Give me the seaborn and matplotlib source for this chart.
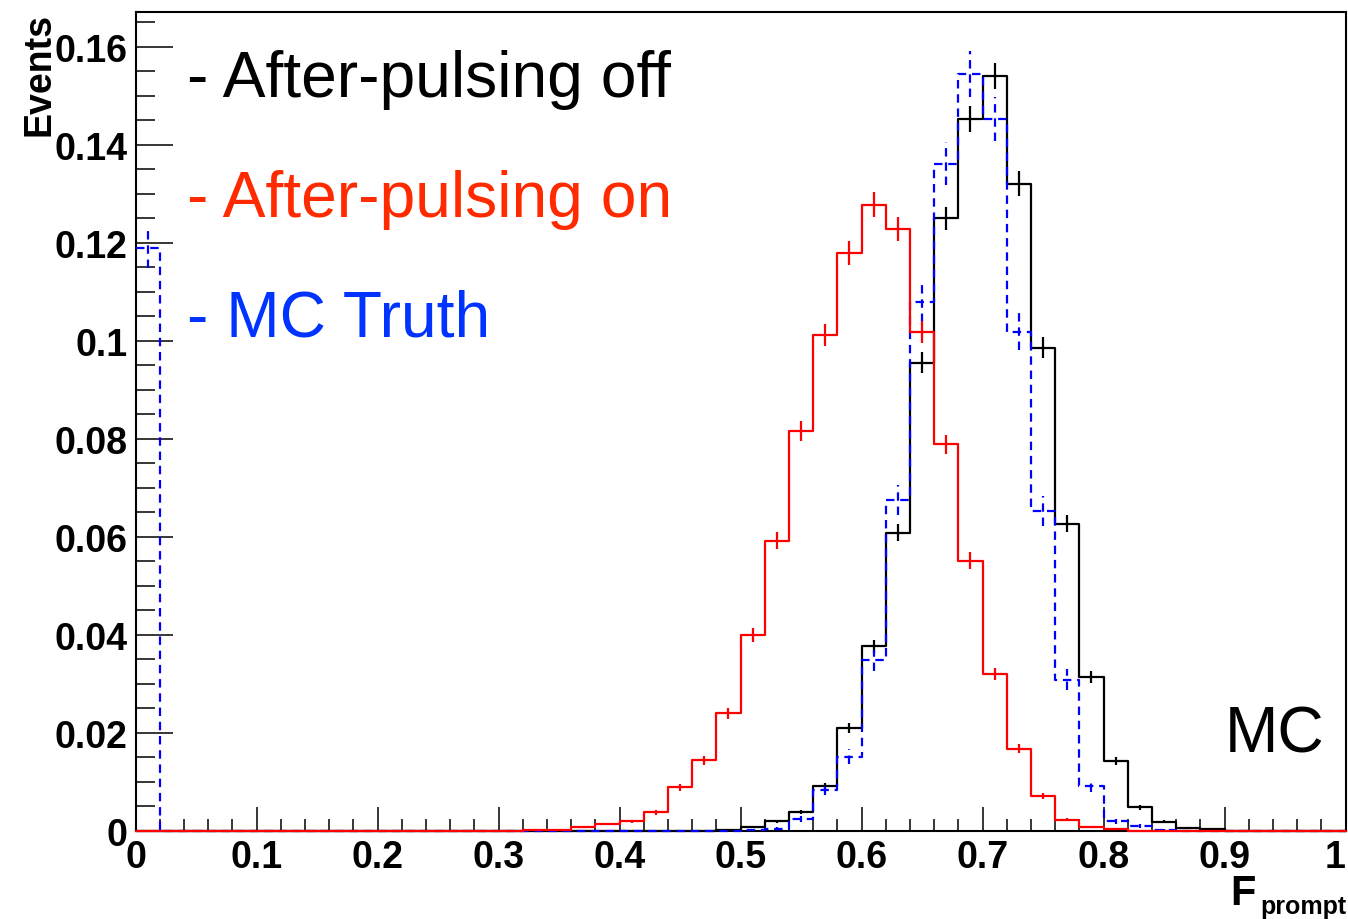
import numpy as np
import matplotlib
matplotlib.use("Agg")
import matplotlib.pyplot as plt
import matplotlib.transforms as mtransforms
import seaborn as sns
from matplotlib.ticker import FixedLocator, FixedFormatter, MultipleLocator

# ---------------------------------------------------------------------------
# Histogram contents: 50 bins of F_prompt in [0, 1], normalised to unit area
# ---------------------------------------------------------------------------
N_BINS = 50
X_RANGE = (0.0, 1.0)

afterpulse_off = [
    0, 0, 0, 0, 0, 0, 0, 0, 0, 0,
    0, 0, 0, 0, 0, 0, 0, 0, 0, 0,
    0, 0, 0, 0.0001, 0.0002, 0.0008, 0.0020, 0.0039, 0.0091, 0.0210,
    0.0377, 0.0609, 0.0956, 0.1250, 0.1453, 0.1541, 0.1321, 0.0986, 0.0627, 0.0315,
    0.0142, 0.0048, 0.0019, 0.0006, 0.0004, 0.0001, 0, 0, 0, 0,
]

afterpulse_on = [
    0, 0, 0, 0, 0, 0, 0, 0, 0, 0,
    0, 0, 0, 0, 0, 0.0001, 0.0002, 0.0003, 0.0009, 0.0014,
    0.0020, 0.0038, 0.0089, 0.0144, 0.0240, 0.0400, 0.0592, 0.0817, 0.1012, 0.1179,
    0.1278, 0.1229, 0.1019, 0.0789, 0.0552, 0.0320, 0.0168, 0.0072, 0.0023, 0.0009,
    0.0005, 0.0001, 0, 0, 0, 0, 0, 0, 0, 0,
]

mc_truth = [
    0.1190, 0, 0, 0, 0, 0, 0, 0, 0, 0,
    0, 0, 0, 0, 0, 0, 0, 0, 0, 0,
    0, 0, 0, 0, 0, 0.0003, 0.0005, 0.0025, 0.0084, 0.0152,
    0.0348, 0.0676, 0.1079, 0.1362, 0.1545, 0.1453, 0.1019, 0.0653, 0.0309, 0.0091,
    0.0020, 0.0011, 0.0003, 0, 0, 0, 0, 0, 0, 0,
]

# number of generated events behind each normalised histogram (Poisson errors)
n_events = {"off": 21000, "on": 20000, "truth": 7000}

legend_labels = ["- After-pulsing off", "- After-pulsing on", "- MC Truth"]
x_tick_values = [0, 0.1, 0.2, 0.3, 0.4, 0.5, 0.6, 0.7, 0.8, 0.9, 1.0]
x_tick_labels = ["0", "0.1", "0.2", "0.3", "0.4", "0.5", "0.6", "0.7", "0.8", "0.9", "1"]
y_tick_values = [0, 0.02, 0.04, 0.06, 0.08, 0.10, 0.12, 0.14, 0.16]
y_tick_labels = ["0", "0.02", "0.04", "0.06", "0.08", "0.1", "0.12", "0.14", "0.16"]

# ---------------------------------------------------------------------------
sns.set_theme(style="white")
plt.rcParams["font.family"] = ["Liberation Sans", "DejaVu Sans"]

W, H = 1348, 920
fig = plt.figure(figsize=(W / 100, H / 100), dpi=100)
left, right, top, bottom = 135.5, 1345.5, 12.7, 832.0
ax = fig.add_axes([left / W, 1 - bottom / H, (right - left) / W, (bottom - top) / H])

edges = np.linspace(X_RANGE[0], X_RANGE[1], N_BINS + 1)
centers = 0.5 * (edges[:-1] + edges[1:])

series = [
    ("off", afterpulse_off, "black", "-"),
    ("truth", mc_truth, "#0000ff", (0, (3.8, 2.6))),
    ("on", afterpulse_on, "#ff0000", "-"),
]

for key, vals, color, ls in series:
    vals = np.asarray(vals, dtype=float)
    n_before = len(ax.lines)
    sns.histplot(x=centers, weights=vals, bins=N_BINS, binrange=X_RANGE,
                 element="step", fill=False, color=color, linewidth=1.6,
                 linestyle=ls, ax=ax)
    for ln in ax.lines[n_before:]:
        ln.set_zorder(3)
        ln.set_clip_on(False)
    err = np.sqrt(vals / n_events[key])
    m = vals > 0
    ax.vlines(centers[m], (vals - err)[m], (vals + err)[m], colors=color,
              linewidth=1.6, linestyles=ls, zorder=3)

ax.set_xlim(*X_RANGE)
ax.set_ylim(0, 0.1672)
ax.set_xlabel("")
ax.set_ylabel("")

ax.xaxis.set_major_locator(FixedLocator(x_tick_values))
ax.xaxis.set_major_formatter(FixedFormatter(x_tick_labels))
ax.xaxis.set_minor_locator(MultipleLocator(0.02))
ax.yaxis.set_major_locator(FixedLocator(y_tick_values))
ax.yaxis.set_major_formatter(FixedFormatter(y_tick_labels))
ax.yaxis.set_minor_locator(MultipleLocator(0.005))

ax.tick_params(which="both", direction="in", top=False, right=False,
               bottom=True, left=True, color="black", width=1.1)
ax.tick_params(axis="x", which="major", length=17.5, pad=6, labelsize=27)
ax.tick_params(axis="x", which="minor", length=8.7)
ax.tick_params(axis="y", which="major", length=26.5, pad=6, labelsize=27)
ax.tick_params(axis="y", which="minor", length=13.5)
for lbl in ax.get_xticklabels() + ax.get_yticklabels():
    lbl.set_fontweight("bold")
    lbl.set_color("black")

# keep the last x label ("1") inside the canvas
last_lbl = ax.get_xticklabels()[-1]
last_lbl.set_transform(last_lbl.get_transform() +
                       mtransforms.ScaledTranslation(-10 / 100, 0, fig.dpi_scale_trans))

for sp in ax.spines.values():
    sp.set_visible(True)
    sp.set_color("black")
    sp.set_linewidth(1.5)

# axis titles
fig.text(39 / W, 1 - 13 / H, "Events", rotation=90, ha="center", va="top",
         fontsize=27, fontweight="bold", color="black")
fig.text(1230 / W, 1 - 905 / H, "F", ha="left", va="baseline",
         fontsize=30, fontweight="bold", color="black")
fig.text(1346 / W, 1 - 914 / H, "prompt", ha="right", va="baseline",
         fontsize=18, fontweight="bold", color="black")

# legend lines
legend_colors = ["black", "#ff2a00", "#0033ff"]
for i, (txt, c) in enumerate(zip(legend_labels, legend_colors)):
    fig.text(187 / W, 1 - (96.7 + 120 * i) / H, txt, ha="left", va="baseline",
             fontsize=46.2, color=c)

fig.text(1325 / W, 1 - 752.7 / H, "MC", ha="right", va="baseline",
         fontsize=46.2, color="black")

fig.savefig("out.png", dpi=100, facecolor="white")
